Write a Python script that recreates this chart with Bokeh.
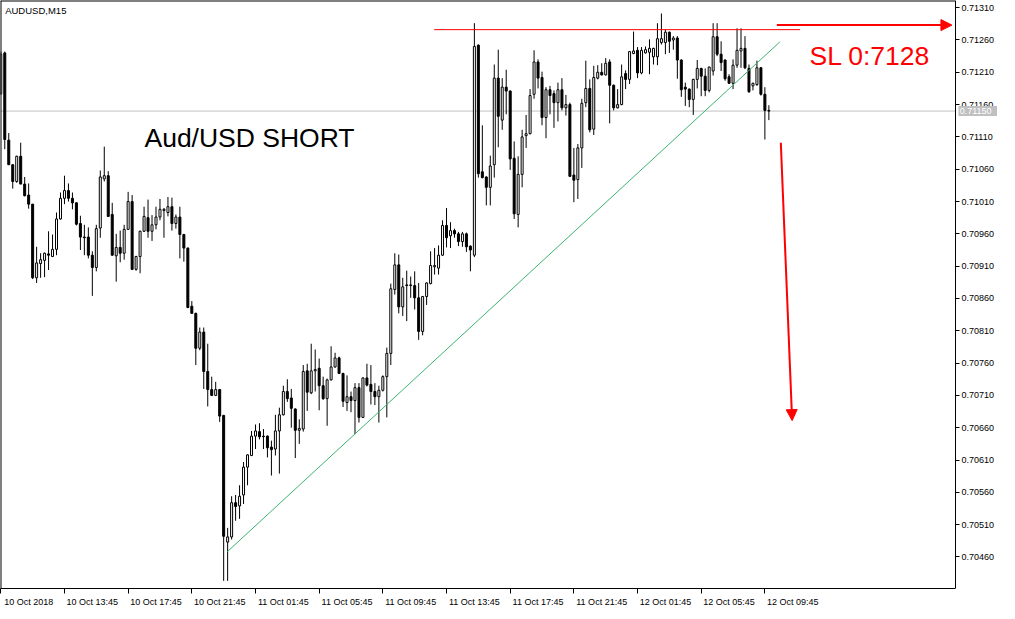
from bokeh.plotting import figure
from bokeh.models import (Range1d, LinearAxis, FixedTicker, PrintfTickFormatter,
                          Label, Arrow, NormalHead, ColumnDataSource)
from bokeh.core.properties import value
from bokeh.embed import file_html
from bokeh.resources import INLINE

# ---------------- data (AUDUSD M15) ----------------
opens = [0.71177, 0.71240, 0.71105, 0.71067, 0.71041, 0.71080, 0.71037, 0.71020, 0.71006, 0.70892,
         0.70914, 0.70919, 0.70929, 0.70925, 0.70936, 0.70983, 0.71015, 0.71027, 0.71015, 0.71008,
         0.70976, 0.70955, 0.70955, 0.70927, 0.70908, 0.70969, 0.71045, 0.71050, 0.70990, 0.70926,
         0.70939, 0.70930, 0.70967, 0.71010, 0.70905, 0.70925, 0.70964, 0.70985, 0.70964, 0.70974,
         0.70986, 0.70996, 0.70993, 0.71002, 0.70976, 0.70986, 0.70959, 0.70938, 0.70848, 0.70837,
         0.70783, 0.70808, 0.70747, 0.70719, 0.70710, 0.70719, 0.70679, 0.70483, 0.70491, 0.70544,
         0.70539, 0.70556, 0.70599, 0.70617, 0.70647, 0.70654, 0.70647, 0.70647, 0.70630, 0.70627,
         0.70655, 0.70680, 0.70716, 0.70706, 0.70689, 0.70656, 0.70658, 0.70748, 0.70714, 0.70748,
         0.70752, 0.70725, 0.70705, 0.70734, 0.70754, 0.70768, 0.70744, 0.70699, 0.70708, 0.70702,
         0.70722, 0.70676, 0.70737, 0.70727, 0.70716, 0.70708, 0.70718, 0.70739, 0.70775, 0.70874,
         0.70912, 0.70847, 0.70881, 0.70880, 0.70880, 0.70861, 0.70809, 0.70863, 0.70883, 0.70909,
         0.70907, 0.70927, 0.70973, 0.70957, 0.70965, 0.70960, 0.70948, 0.70960, 0.70941, 0.70927,
         0.71252, 0.71056, 0.71048, 0.71032, 0.71067, 0.71201, 0.71136, 0.71187, 0.71181, 0.71077,
         0.70990, 0.71052, 0.71112, 0.71115, 0.71176, 0.71226, 0.71202, 0.71140, 0.71183, 0.71177,
         0.71163, 0.71183, 0.71155, 0.71160, 0.71051, 0.71044, 0.71093, 0.71163, 0.71185, 0.71122,
         0.71201, 0.71210, 0.71206, 0.71226, 0.71190, 0.71155, 0.71160, 0.71208, 0.71199, 0.71239,
         0.71244, 0.71209, 0.71240, 0.71241, 0.71234, 0.71234, 0.71256, 0.71256, 0.71272, 0.71260,
         0.71263, 0.71229, 0.71187, 0.71184, 0.71168, 0.71199, 0.71216, 0.71204, 0.71182, 0.71212,
         0.71265, 0.71238, 0.71229, 0.71203, 0.71193, 0.71221, 0.71243, 0.71247, 0.71216, 0.71189,
         0.71191, 0.71217, 0.71176, 0.71151]

highs = [0.71242, 0.71242, 0.71116, 0.71068, 0.71081, 0.71101, 0.71048, 0.71038, 0.71006, 0.70940,
         0.70930, 0.70931, 0.70964, 0.70959, 0.70993, 0.71024, 0.71050, 0.71038, 0.71024, 0.71009,
         0.70988, 0.70974, 0.70970, 0.70933, 0.70974, 0.71058, 0.71095, 0.71057, 0.71008, 0.70960,
         0.70965, 0.70974, 0.71025, 0.71020, 0.70926, 0.70965, 0.71002, 0.71013, 0.70989, 0.71002,
         0.71014, 0.71000, 0.71017, 0.71016, 0.70990, 0.71002, 0.70960, 0.70939, 0.70856, 0.70838,
         0.70815, 0.70815, 0.70790, 0.70739, 0.70731, 0.70720, 0.70680, 0.70505, 0.70554, 0.70556,
         0.70571, 0.70607, 0.70619, 0.70655, 0.70665, 0.70667, 0.70658, 0.70648, 0.70640, 0.70680,
         0.70691, 0.70725, 0.70735, 0.70720, 0.70690, 0.70673, 0.70757, 0.70759, 0.70790, 0.70781,
         0.70767, 0.70739, 0.70736, 0.70786, 0.70776, 0.70770, 0.70745, 0.70741, 0.70716, 0.70729,
         0.70729, 0.70738, 0.70759, 0.70757, 0.70729, 0.70725, 0.70741, 0.70784, 0.70883, 0.70930,
         0.70928, 0.70892, 0.70903, 0.70894, 0.70902, 0.70884, 0.70864, 0.70885, 0.70933, 0.70938,
         0.70942, 0.70981, 0.71000, 0.70978, 0.70968, 0.70963, 0.70963, 0.70962, 0.70942, 0.71286,
         0.71253, 0.71128, 0.71049, 0.71081, 0.71222, 0.71245, 0.71201, 0.71214, 0.71182, 0.71103,
         0.71080, 0.71121, 0.71144, 0.71184, 0.71244, 0.71230, 0.71211, 0.71187, 0.71189, 0.71182,
         0.71194, 0.71201, 0.71175, 0.71163, 0.71093, 0.71099, 0.71169, 0.71228, 0.71199, 0.71220,
         0.71221, 0.71224, 0.71232, 0.71230, 0.71191, 0.71184, 0.71222, 0.71213, 0.71243, 0.71273,
         0.71249, 0.71249, 0.71250, 0.71261, 0.71248, 0.71286, 0.71301, 0.71276, 0.71273, 0.71266,
         0.71266, 0.71230, 0.71194, 0.71185, 0.71200, 0.71229, 0.71217, 0.71216, 0.71219, 0.71286,
         0.71286, 0.71258, 0.71230, 0.71207, 0.71230, 0.71278, 0.71278, 0.71266, 0.71222, 0.71194,
         0.71228, 0.71218, 0.71187, 0.71159]

lows = [0.71175, 0.71091, 0.71067, 0.71030, 0.71039, 0.71037, 0.71018, 0.70999, 0.70890, 0.70884,
        0.70892, 0.70893, 0.70904, 0.70924, 0.70927, 0.70982, 0.71006, 0.71010, 0.70998, 0.70973,
        0.70935, 0.70927, 0.70922, 0.70864, 0.70902, 0.70954, 0.71041, 0.70986, 0.70926, 0.70886,
        0.70916, 0.70920, 0.70966, 0.70904, 0.70903, 0.70899, 0.70963, 0.70954, 0.70949, 0.70967,
        0.70981, 0.70954, 0.70987, 0.70965, 0.70968, 0.70922, 0.70917, 0.70845, 0.70836, 0.70757,
        0.70780, 0.70720, 0.70693, 0.70709, 0.70709, 0.70669, 0.70423, 0.70423, 0.70487, 0.70516,
        0.70519, 0.70542, 0.70571, 0.70616, 0.70627, 0.70642, 0.70627, 0.70614, 0.70586, 0.70617,
        0.70589, 0.70679, 0.70700, 0.70660, 0.70613, 0.70635, 0.70654, 0.70686, 0.70712, 0.70716,
        0.70687, 0.70703, 0.70663, 0.70733, 0.70753, 0.70743, 0.70692, 0.70686, 0.70684, 0.70650,
        0.70668, 0.70675, 0.70724, 0.70696, 0.70695, 0.70668, 0.70716, 0.70676, 0.70757, 0.70866,
        0.70837, 0.70833, 0.70825, 0.70861, 0.70843, 0.70796, 0.70803, 0.70850, 0.70882, 0.70897,
        0.70897, 0.70926, 0.70939, 0.70938, 0.70954, 0.70941, 0.70940, 0.70932, 0.70902, 0.70924,
        0.71047, 0.71046, 0.71004, 0.71004, 0.71047, 0.71094, 0.71121, 0.71145, 0.71059, 0.70983,
        0.70970, 0.71032, 0.71093, 0.71114, 0.71169, 0.71185, 0.71128, 0.71108, 0.71145, 0.71124,
        0.71134, 0.71151, 0.71143, 0.71048, 0.71009, 0.71014, 0.71062, 0.71156, 0.71117, 0.71113,
        0.71199, 0.71205, 0.71205, 0.71131, 0.71151, 0.71154, 0.71159, 0.71184, 0.71192, 0.71238,
        0.71201, 0.71207, 0.71239, 0.71207, 0.71222, 0.71221, 0.71253, 0.71238, 0.71240, 0.71245,
        0.71200, 0.71172, 0.71158, 0.71156, 0.71144, 0.71185, 0.71173, 0.71173, 0.71179, 0.71205,
        0.71235, 0.71212, 0.71197, 0.71192, 0.71184, 0.71217, 0.71217, 0.71215, 0.71178, 0.71182,
        0.71189, 0.71174, 0.71106, 0.71136]

closes = [0.71238, 0.71106, 0.71067, 0.71041, 0.71080, 0.71037, 0.71019, 0.71006, 0.70892, 0.70915,
          0.70920, 0.70930, 0.70927, 0.70936, 0.70983, 0.71015, 0.71027, 0.71015, 0.71008, 0.70975,
          0.70955, 0.70954, 0.70927, 0.70908, 0.70968, 0.71048, 0.71050, 0.70987, 0.70927, 0.70939,
          0.70930, 0.70967, 0.71010, 0.70905, 0.70925, 0.70964, 0.70987, 0.70964, 0.70974, 0.70986,
          0.70998, 0.70998, 0.71002, 0.70976, 0.70986, 0.70959, 0.70938, 0.70846, 0.70837, 0.70783,
          0.70808, 0.70747, 0.70719, 0.70710, 0.70719, 0.70678, 0.70492, 0.70491, 0.70544, 0.70538,
          0.70554, 0.70599, 0.70618, 0.70647, 0.70655, 0.70646, 0.70646, 0.70629, 0.70626, 0.70655,
          0.70680, 0.70716, 0.70705, 0.70690, 0.70656, 0.70659, 0.70747, 0.70715, 0.70748, 0.70750,
          0.70725, 0.70705, 0.70734, 0.70754, 0.70768, 0.70744, 0.70701, 0.70708, 0.70702, 0.70722,
          0.70676, 0.70737, 0.70726, 0.70716, 0.70708, 0.70718, 0.70739, 0.70775, 0.70875, 0.70912,
          0.70847, 0.70878, 0.70880, 0.70881, 0.70861, 0.70809, 0.70863, 0.70884, 0.70911, 0.70911,
          0.70927, 0.70973, 0.70954, 0.70965, 0.70960, 0.70948, 0.70960, 0.70940, 0.70935, 0.71250,
          0.71053, 0.71047, 0.71032, 0.71065, 0.71201, 0.71142, 0.71187, 0.71181, 0.71076, 0.70991,
          0.71052, 0.71110, 0.71115, 0.71174, 0.71226, 0.71201, 0.71140, 0.71183, 0.71174, 0.71163,
          0.71183, 0.71155, 0.71160, 0.71049, 0.71043, 0.71093, 0.71162, 0.71185, 0.71121, 0.71202,
          0.71210, 0.71206, 0.71224, 0.71190, 0.71155, 0.71160, 0.71203, 0.71199, 0.71242, 0.71243,
          0.71209, 0.71244, 0.71245, 0.71247, 0.71247, 0.71262, 0.71262, 0.71272, 0.71258, 0.71263,
          0.71229, 0.71183, 0.71184, 0.71168, 0.71199, 0.71216, 0.71204, 0.71182, 0.71218, 0.71265,
          0.71238, 0.71225, 0.71200, 0.71193, 0.71221, 0.71244, 0.71247, 0.71217, 0.71180, 0.71193,
          0.71217, 0.71176, 0.71151, 0.71150]

time_labels = ["10 Oct 2018", "10 Oct 13:45", "10 Oct 17:45", "10 Oct 21:45",
               "11 Oct 01:45", "11 Oct 05:45", "11 Oct 09:45", "11 Oct 13:45",
               "11 Oct 17:45", "11 Oct 21:45", "12 Oct 01:45", "12 Oct 05:45",
               "12 Oct 09:45"]
bars_per_label = 16

price_ticks = [0.70460, 0.70510, 0.70560, 0.70610, 0.70660, 0.70710, 0.70760, 0.70810,
               0.70860, 0.70910, 0.70960, 0.71010, 0.71060, 0.71110, 0.71160, 0.71210,
               0.71260, 0.71310]

bid_price = 0.71150
bid_label = "0.71150"
sl_line_x = [108.9, 200.85]
sl_line_y = [0.71276, 0.71276]
trend_x = [56.9, 195.75]
trend_y = [0.70468, 0.71257]
sl_arrow_x = [195.0, 239.0]
sl_arrow_y = [0.71283, 0.71283]
down_arrow_x = [196.0, 198.85]
down_arrow_y = [0.71101, 0.70671]

# ---------------- layout constants ----------------
FONT = "Liberation Sans"
X0, XAXIS, X1 = -0.075, 239.9, 250.45      # chart area ends at XAXIS, price scale beyond
Y0, Y1 = 0.704112, 0.713211

n = len(opens)
xs = list(range(n))
src = ColumnDataSource(dict(
    x=xs, h=highs, l=lows,
    top=[max(o, c) for o, c in zip(opens, closes)],
    bottom=[min(o, c) for o, c in zip(opens, closes)],
    fill=["white" if c >= o else "black" for o, c in zip(opens, closes)],
))

p = figure(frame_width=997, frame_height=588,
           x_range=Range1d(X0, X1), y_range=Range1d(Y0, Y1),
           output_backend="svg", toolbar_location=None,
           x_axis_location=None, y_axis_location=None, min_border=0)
p.grid.visible = False
p.outline_line_color = None
p.background_fill_color = "white"
p.border_fill_color = "white"

# chart border (left and top)
p.segment(x0=[X0, X0], y0=[Y0, Y1], x1=[X0, XAXIS], y1=[Y1, Y1],
          line_color="black", line_width=2)

# bid line
p.line([X0, XAXIS], [bid_price, bid_price], line_color="#C0C0C0", line_width=1,
       level="underlay")

# candles
p.segment(x0="x", y0="h", x1="x", y1="l", source=src, line_color="black", line_width=1)
p.vbar(x="x", top="top", bottom="bottom", width=0.5, fill_color="fill",
       line_color="black", line_width=1, source=src)

# trend line and SL level
p.line(trend_x, trend_y, line_color="#3CB371", line_width=1)
p.line(sl_line_x, sl_line_y, line_color="#FF0000", line_width=1)

# arrows
p.add_layout(Arrow(end=NormalHead(size=11, fill_color="#FF0000", line_color="#FF0000"),
                   x_start=sl_arrow_x[0], y_start=sl_arrow_y[0],
                   x_end=sl_arrow_x[1], y_end=sl_arrow_y[1],
                   line_color="#FF0000", line_width=2))
p.add_layout(Arrow(end=NormalHead(size=11, fill_color="#FF0000", line_color="#FF0000"),
                   x_start=down_arrow_x[0], y_start=down_arrow_y[0],
                   x_end=down_arrow_x[1], y_end=down_arrow_y[1],
                   line_color="#FF0000", line_width=2))

# texts
p.add_layout(Label(x=1.1, y=0.71305, text="AUDUSD,M15", text_font=FONT,
                   text_font_size="9.5px", text_color="black", text_baseline="alphabetic"))
p.add_layout(Label(x=36.1, y=0.71108, text="Aud/USD SHORT", text_font=FONT,
                   text_font_size="26.5px", text_color="black", text_baseline="alphabetic"))
p.add_layout(Label(x=203.2, y=0.71235, text="SL 0:7128", text_font=FONT,
                   text_font_size="26.5px", text_color="#FF0000", text_baseline="alphabetic"))

# price scale (real axis drawn at the right edge of the chart area)
yaxis = LinearAxis(ticker=FixedTicker(ticks=price_ticks),
                   formatter=PrintfTickFormatter(format="%.5f"),
                   fixed_location=XAXIS,
                   major_tick_in=0, major_tick_out=4, minor_tick_in=0, minor_tick_out=0,
                   major_label_standoff=2, major_label_text_font=FONT,
                   major_label_text_font_size="9px", major_label_text_color="black",
                   axis_line_color="black", major_tick_line_color="black")
p.add_layout(yaxis, "right")

# time scale
tick_pos = [bars_per_label * k for k in range(len(time_labels))]
label_pos = [t + 7 for t in tick_pos]
xaxis = LinearAxis(ticker=FixedTicker(ticks=label_pos, minor_ticks=tick_pos),
                   major_label_overrides={lp: lab for lp, lab in zip(label_pos, time_labels)},
                   bounds=(X0, XAXIS),
                   major_tick_line_color=None, major_tick_in=0, major_tick_out=0,
                   minor_tick_in=0, minor_tick_out=5, minor_tick_line_color="black",
                   major_label_standoff=3, major_label_text_font=FONT,
                   major_label_text_font_size="9px", major_label_text_color="black",
                   axis_line_color="black")
p.add_layout(xaxis, "below")

# current price box on the price scale
p.quad(left=[240.65], right=[250.4], top=[bid_price + 0.000078], bottom=[bid_price - 0.000078],
       fill_color="#C0C0C0", line_color=None, level="overlay")
p.text(x=[240.95], y=[bid_price], text=[bid_label], text_color="white",
       text_font=value(FONT), text_font_size="9px", text_baseline="middle",
       text_align="left", level="overlay")

open("out.html", "w").write(file_html(p, INLINE))
